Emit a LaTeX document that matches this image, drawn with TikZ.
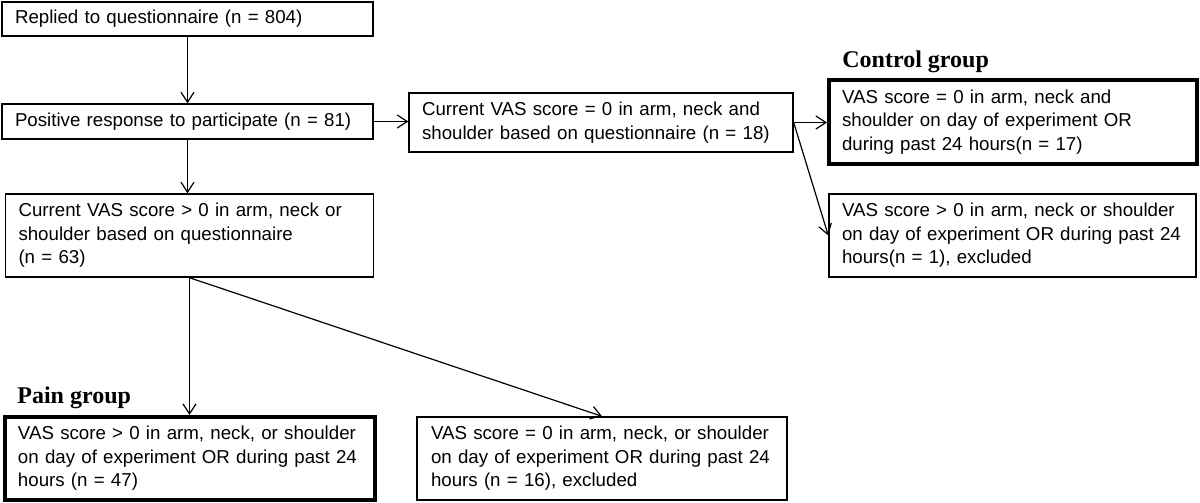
\documentclass[tikz,border=0pt]{standalone}
\usepackage{fontspec}
\setmainfont{Liberation Sans}
\newfontfamily\headfont{Liberation Serif}
\usetikzlibrary{arrows.meta}
\newcommand{\boxline}[1]{\mbox{#1}}
\begin{document}
\begin{tikzpicture}[x=0.5pt,y=-0.5pt,
  box/.style={draw, line width=0.7pt, inner xsep=6.5pt, inner ysep=0pt, align=left,
    font=\fontsize{9.35pt}{11.75pt}\selectfont, anchor=center},
  thickbox/.style={box, line width=2pt},
  arr/.style={-{Straight Barb[length=5pt,width=6.5pt]}, line width=0.6pt},
  head/.style={font=\headfont\bfseries\fontsize{12pt}{13pt}\selectfont, anchor=base west, inner sep=0pt}]
\useasboundingbox (0,0) rectangle (1200,503);

\node[box, minimum width=185.5pt, minimum height=17pt, text width=172.5pt] (b1) at (187.5,19)
  {\boxline{Replied to questionnaire (n = 804)}};
\node[box, minimum width=185.5pt, minimum height=17.5pt, text width=172.5pt] (b2) at (187.5,121.5)
  {\boxline{Positive response to participate (n = 81)}};
\node[box, minimum width=192pt, minimum height=29.5pt, text width=179pt] (b3) at (601,122.5)
  {\boxline{Current VAS score = 0 in arm, neck and}\\\boxline{shoulder based on questionnaire (n = 18)}};
\node[thickbox, minimum width=184pt, minimum height=42pt, text width=171pt] (ctrl) at (1013,122)
  {\boxline{VAS score = 0 in arm, neck and}\\\boxline{shoulder on day of experiment OR}\\\boxline{during past 24 hours(n = 17)}};
\node[box, minimum width=183.5pt, minimum height=41.5pt, text width=170.5pt] (b5) at (1012.5,235.5)
  {\boxline{VAS score > 0 in arm, neck or shoulder}\\\boxline{on day of experiment OR during past 24}\\\boxline{hours(n = 1), excluded}};
\node[box, minimum width=184pt, minimum height=41.5pt, text width=171pt] (b6) at (189.5,235.5)
  {\boxline{Current VAS score > 0 in arm, neck or}\\\boxline{shoulder based on questionnaire}\\\boxline{(n = 63)}};
\node[thickbox, minimum width=185pt, minimum height=41.5pt, text width=172pt] (pain) at (190,458.5)
  {\boxline{VAS score > 0 in arm, neck, or shoulder}\\\boxline{on day of experiment OR during past 24}\\\boxline{hours (n = 47)}};
\node[box, minimum width=185pt, minimum height=41.5pt, text width=171pt, inner xsep=7pt] (b8) at (602,458.5)
  {\boxline{VAS score = 0 in arm, neck, or shoulder}\\\boxline{on day of experiment OR during past 24}\\\boxline{hours (n = 16), excluded}};

\node[head] (ctrlhead) at (842,68) {Control group};
\node[head] (painhead) at (17,403) {Pain group};

\draw[arr] (b1.south) -- (b2.north);
\draw[arr] (b2.east) -- (b3.west |- b2.east);
\draw[arr] (b2.south) -- (b2.south |- b6.north);
\draw[arr] (b3.east) -- (ctrl.west |- b3.east);
\draw[arr] (b3.east) -- (b5.west);
\draw[arr] (b6.south) -- (b6.south |- pain.north);
\draw[arr] (b6.south) -- (b8.north);
\end{tikzpicture}
\end{document}
